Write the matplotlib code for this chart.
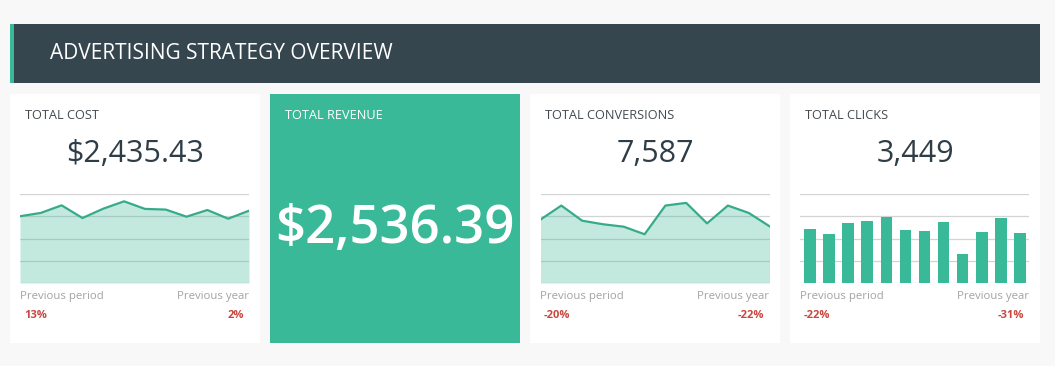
#!/usr/bin/env python3
# advertising strategy overview: four kpi cards under a dark header bar.
# everything is placed in pixel coords of the 1055x366 canvas.

import matplotlib
matplotlib.use("Agg")
import matplotlib.pyplot as plt
from matplotlib.patches import Rectangle

W, H = 1055, 366

TITLE = "ADVERTISING STRATEGY OVERVIEW"
CARD_TITLES = ["TOTAL COST", "TOTAL REVENUE", "TOTAL CONVERSIONS", "TOTAL CLICKS"]
CARD_VALUES = ["$2,435.43", "$2,536.39", "7,587", "3,449"]

# sparkline series, 12 periods each
cost = [300, 315, 349, 292, 334, 367, 333, 330, 298, 328, 289, 325]
conversions = [285, 348, 280, 264, 253, 219, 348, 360, 268, 348, 315, 255]
clicks = [244, 222, 271, 280, 298, 240, 235, 276, 132, 231, 294, 226]
GRID_TICKS = [0, 100, 200, 300, 400]

# footer comparisons
prev_period = ["13%", None, "-20%", "-22%"]
prev_year = ["2%", None, "-22%", "-31%"]

BG = "#f8f8f8"
HEADER = "#36464f"
GREEN = "#39b997"
LINE = "#36ab8a"
RED = "#c9473f"
GRAY = "#a3a3a3"
DARK = "#2f3d47"
FONT = "Open Sans"


def fx(x):
    return x / W


def fy(y):
    return 1 - y / H


def rect(fig, x0, y0, x1, y1, color):
    fig.patches.append(Rectangle((fx(x0), fy(y1)), (x1 - x0) / W, (y1 - y0) / H,
                                 transform=fig.transFigure, facecolor=color,
                                 edgecolor="none", zorder=-5))


def chart_axes(fig, x0, x1):
    # chart area spans the top gridline (y=194) down to baseline (y=283)
    ax = fig.add_axes([fx(x0), fy(283), (x1 - x0) / W, (283 - 194) / H])
    ax.set_zorder(5)
    ax.set_ylim(0, 400)
    for t in GRID_TICKS:
        ax.axhline(t, color="#d3d3d3", linewidth=0.9, zorder=1)
    ax.axis("off")
    return ax


fig = plt.figure(figsize=(W / 100, H / 100), dpi=100)
fig.patch.set_facecolor(BG)

# header
rect(fig, 10, 24, 1040, 83, HEADER)
rect(fig, 10, 24, 14, 83, GREEN)
fig.text(fx(50), fy(53.5), TITLE, color="white", fontsize=15, family=FONT,
         va="center", ha="left")

card_x = [10, 270, 530, 790]
CW = 250
for i, x0 in enumerate(card_x):
    face = GREEN if i == 1 else "white"
    rect(fig, x0, 94, x0 + CW, 343, face)
    tcol = "white" if i == 1 else "#444b50"
    fig.text(fx(x0 + 15), fy(115.5), CARD_TITLES[i], color=tcol, fontsize=9.2,
             family=FONT, va="center", ha="left")
    if i == 1:
        fig.text(fx(x0 + CW / 2), fy(229), CARD_VALUES[i], color="white",
                 fontsize=38, family=FONT, fontweight="semibold",
                 va="center", ha="center")
        continue
    fig.text(fx(x0 + CW / 2), fy(154), CARD_VALUES[i], color=DARK,
             fontsize=22, family=FONT, va="center", ha="center")
    fig.text(fx(x0 + 10), fy(297), "Previous period", color=GRAY, fontsize=8.2,
             family=FONT, va="center", ha="left")
    fig.text(fx(x0 + 239), fy(297), "Previous year", color=GRAY, fontsize=8.2,
             family=FONT, va="center", ha="right")
    fig.text(fx(x0 + 14), fy(316), prev_period[i], color=RED, fontsize=8,
             family=FONT, fontweight="bold", va="center", ha="left")
    fig.text(fx(x0 + 234), fy(316), prev_year[i], color=RED, fontsize=8,
             family=FONT, fontweight="bold", va="center", ha="right")

# total cost sparkline
ax = chart_axes(fig, 20, 249)
xs = range(len(cost))
ax.fill_between(xs, cost, 0, color=GREEN, alpha=0.3, linewidth=0, zorder=2)
ax.plot(xs, cost, color=LINE, linewidth=1.6, zorder=3)
ax.set_xlim(0, len(cost) - 1)

# conversions sparkline
ax = chart_axes(fig, 540.5, 769.5)
xs = range(len(conversions))
ax.fill_between(xs, conversions, 0, color=GREEN, alpha=0.3, linewidth=0, zorder=2)
ax.plot(xs, conversions, color=LINE, linewidth=1.6, zorder=3)
ax.set_xlim(0, len(conversions) - 1)

# clicks bars
ax = chart_axes(fig, 800, 1029)
xs = range(len(clicks))
ax.bar(xs, clicks, width=0.61, color=GREEN, zorder=2)
ax.set_xlim(-0.53, len(clicks) - 0.52)

fig.savefig("out.png", dpi=100, facecolor=BG)
